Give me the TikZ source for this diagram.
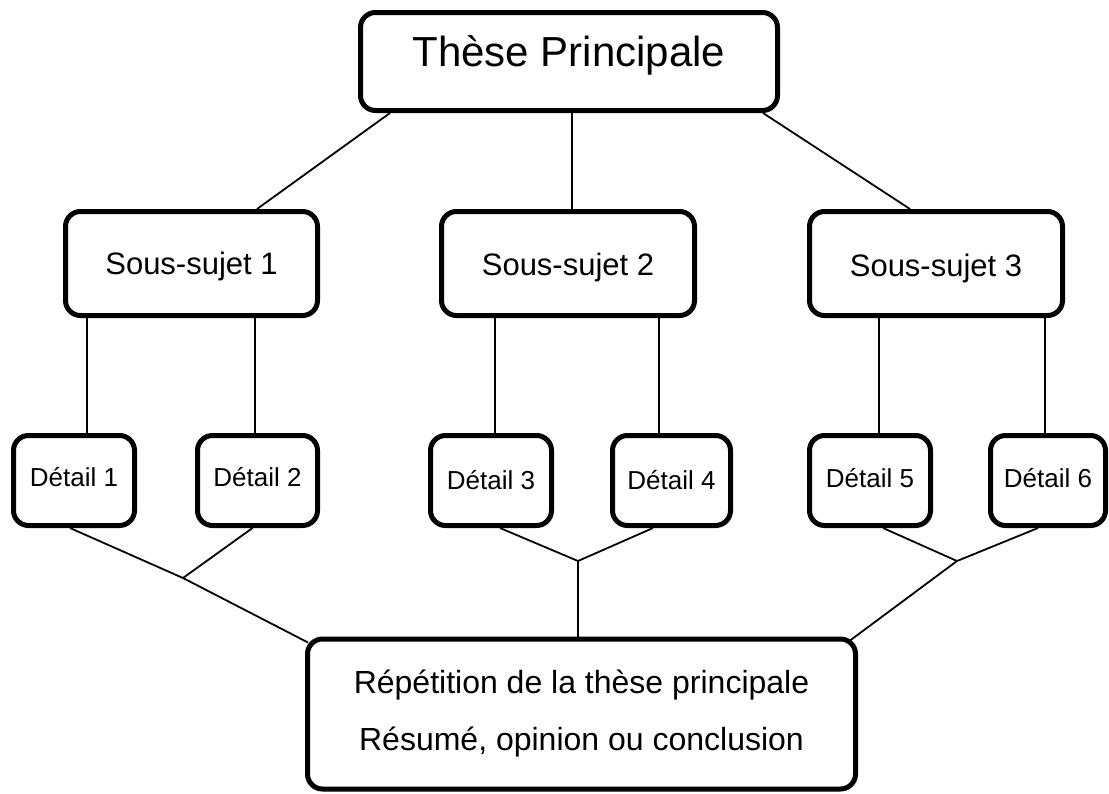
\documentclass[tikz,border=0pt]{standalone}
\usepackage{fontspec}
\setmainfont{Liberation Sans}
\usepackage{tikz}

\newcommand{\lever}[2]{\raisebox{#1}[\height][\depth]{#2}}

\begin{document}
\begin{tikzpicture}[x=1pt, y=-1pt,
    boite/.style={rectangle, draw, line width=5pt, rounded corners=15pt, inner sep=0pt},
    lien/.style={line width=1.8pt}]
      \useasboundingbox (0,0) rectangle (1109,793);

      \node (these) [boite, minimum width=417, minimum height=98, font=\fontsize{42}{50}\selectfont] at (569, 61.5) {\lever{6pt}{Thèse Principale}};

      \node (sous1) [boite, minimum width=252, minimum height=104, font=\fontsize{31}{37}\selectfont] at (191.5, 263.5) {\lever{-3pt}{Sous-sujet 1}};
      \node (sous2) [boite, minimum width=253, minimum height=104, font=\fontsize{31}{37}\selectfont] at (568, 263.5) {\lever{-4pt}{Sous-sujet 2}};
      \node (sous3) [boite, minimum width=253, minimum height=104, font=\fontsize{31}{37}\selectfont] at (936, 263.5) {\lever{-5pt}{Sous-sujet 3}};

      \node (det1) [boite, minimum width=121, minimum height=90, font=\fontsize{26}{31}\selectfont] at (74, 480.5) {\lever{3pt}{Détail 1}};
      \node (det2) [boite, minimum width=120, minimum height=90, font=\fontsize{26}{31}\selectfont] at (257.5, 480.5) {\lever{3pt}{Détail 2}};
      \node (det3) [boite, minimum width=121, minimum height=90, font=\fontsize{26}{31}\selectfont] at (491, 480.5) {Détail 3};
      \node (det4) [boite, minimum width=118, minimum height=90, font=\fontsize{26}{31}\selectfont] at (671.5, 480.5) {Détail 4};
      \node (det5) [boite, minimum width=121, minimum height=90, font=\fontsize{26}{31}\selectfont] at (870, 480.5) {\lever{2pt}{Détail 5}};
      \node (det6) [boite, minimum width=115, minimum height=90, font=\fontsize{26}{31}\selectfont] at (1048, 480.5) {\lever{2pt}{Détail 6}};

      \node (res) [boite, minimum width=548, minimum height=150, align=center, font=\fontsize{32}{57}\selectfont] at (581.5, 714) {
        Répétition de la thèse principale \\
        Résumé, opinion ou conclusion
      };

      \coordinate (j1) at (183, 578);
      \coordinate (j2) at (578, 561);
      \coordinate (j3) at (957, 561);

      % thesis to sub-topics
      \draw[lien] ([xshift=32]these.south west) -- ([xshift=-63]sous1.north east);
      \draw[lien] ([xshift=3]these.south) -- ([xshift=3]these.south |- sous2.north);
      \draw[lien] ([xshift=-17]these.south east) -- ([xshift=103]sous3.north west);

      % sub-topics to details
      \draw[lien] ([xshift=13]det1.north) -- ([xshift=13]det1.north |- sous1.south);
      \draw[lien] ([xshift=-2.5]det2.north) -- ([xshift=-2.5]det2.north |- sous1.south);
      \draw[lien] ([xshift=4]det3.north) -- ([xshift=4]det3.north |- sous2.south);
      \draw[lien] ([xshift=-12.5]det4.north) -- ([xshift=-12.5]det4.north |- sous2.south);
      \draw[lien] ([xshift=9]det5.north) -- ([xshift=9]det5.north |- sous3.south);
      \draw[lien] ([xshift=-3]det6.north) -- ([xshift=-3]det6.north |- sous3.south);

      % details to conclusion
      \draw[lien] ([xshift=-4]det1.south) -- (j1) -- ([shift={(3,6)}]res.north west);
      \draw[lien] ([xshift=-5]det2.south) -- (j1);
      \draw[lien] ([xshift=9]det3.south) -- (j2);
      \draw[lien] ([xshift=-18.5]det4.south) -- (j2);
      \draw[lien] (j2) -- (j2 |- res.north);
      \draw[lien] ([xshift=13]det5.south) -- (j3);
      \draw[lien] ([xshift=-10]det6.south) -- (j3);
      \draw[lien] (j3) -- ([shift={(-8,4)}]res.north east);
    \end{tikzpicture}
\end{document}
